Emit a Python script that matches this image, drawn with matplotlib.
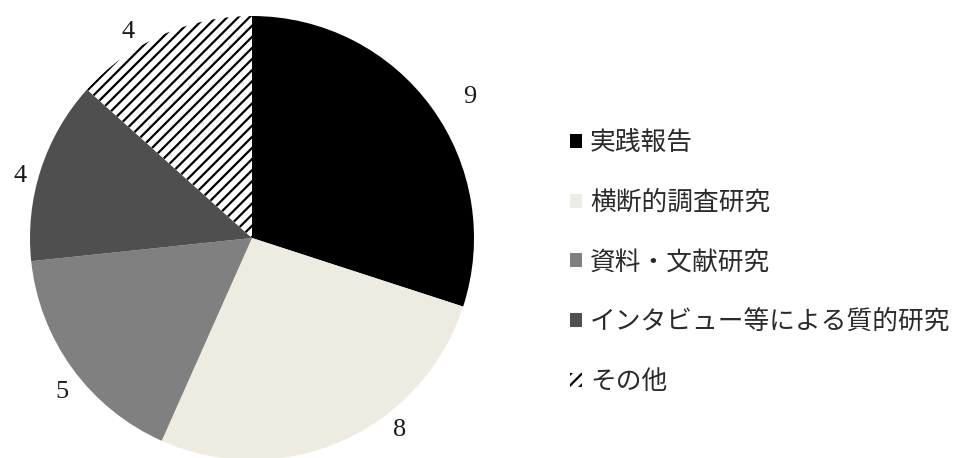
import matplotlib
matplotlib.use("Agg")
import numpy as np
import matplotlib.pyplot as plt

plt.rcParams['font.family'] = ['Noto Sans CJK JP', 'DejaVu Sans']
plt.rcParams['hatch.linewidth'] = 1.6

# research types and counts
categories = ["実践報告", "横断的調査研究", "資料・文献研究", "インタビュー等による質的研究", "その他"]
counts = [9, 8, 5, 4, 4]
colors = ["#000000", "#EEECE1", "#808080", "#4F4F4F", "#FFFFFF"]

# where each count label sits: (angle in degrees, distance in radii)
label_spots = [(33, 1.17), (-52.5, 1.09), (-141, 1.10), (165, 1.08), (121, 1.08)]

fig = plt.figure(figsize=(9.69, 4.58), dpi=100)
W, H = 969, 458
cx, cy, r = 252, 238, 222
ax = fig.add_axes([(cx - r) / W, (H - cy - r) / H, 2 * r / W, 2 * r / H])

wedges, texts = ax.pie(
    counts,
    colors=colors,
    startangle=90,
    counterclock=False,
    labels=[str(c) for c in counts],
    wedgeprops=dict(linewidth=0),
    textprops=dict(family="Liberation Serif", fontsize=19, color="#1a1a1a"),
)
# striped slice for "other"
wedges[4].set_hatch("///")
wedges[4].set_edgecolor("black")

for t, (ang, dist) in zip(texts, label_spots):
    a = np.deg2rad(ang)
    t.set_position((dist * np.cos(a), dist * np.sin(a)))
    t.set_ha("center")
    t.set_va("center")

ax.set_xlim(-1, 1)
ax.set_ylim(-1, 1)

leg = fig.legend(
    wedges, categories,
    loc="upper left",
    bbox_to_anchor=(547 / W, 1 - 107 / H),
    frameon=False,
    fontsize=18.5,
    handlelength=0.47,
    handleheight=0.47,
    handletextpad=0.3,
    labelspacing=1.31,
)
for t in leg.get_texts():
    t.set_color("#2a2a2a")

fig.savefig("out.png", dpi=100)
